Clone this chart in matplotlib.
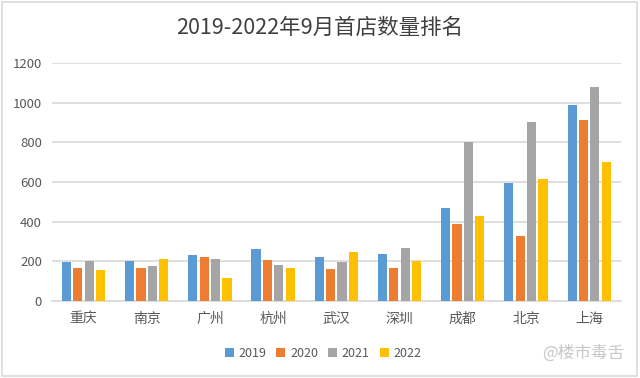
import matplotlib
matplotlib.use("Agg")
import matplotlib.pyplot as plt
import numpy as np
from matplotlib.patches import Rectangle

plt.rcParams['font.family'] = ['Noto Sans CJK SC', 'DejaVu Sans']

cities = ["重庆", "南京", "广州", "杭州", "武汉", "深圳", "成都", "北京", "上海"]
years = ["2019", "2020", "2021", "2022"]
v2019 = [198, 200, 230, 262, 222, 238, 470, 596, 988]
v2020 = [165, 165, 221, 206, 160, 168, 386, 329, 912]
v2021 = [202, 174, 209, 180, 197, 266, 802, 903, 1078]
v2022 = [157, 209, 116, 168, 246, 199, 430, 613, 703]
colors = ["#5B9BD5", "#ED7D31", "#A5A5A5", "#FFC000"]

fig = plt.figure(figsize=(6.4, 3.78), dpi=100)
ax = fig.add_axes([0.081, 0.204, 0.889, 0.629])

x = np.arange(len(cities))
width = 0.145
step = 0.18
series = [v2019, v2020, v2021, v2022]
for i, (vals, c, y) in enumerate(zip(series, colors, years)):
    ax.bar(x + (i - 1.5) * step, vals, width, color=c, label=y, zorder=3)

ax.set_xlim(-0.5, len(cities) - 0.5)
ax.set_ylim(0, 1200)
ax.set_yticks(range(0, 1201, 200))
ax.grid(axis='y', color='#D9D9D9', linewidth=1.2, zorder=0)
for s in ['top', 'right', 'left']:
    ax.spines[s].set_visible(False)
ax.spines['bottom'].set_color('#D9D9D9')
ax.spines['bottom'].set_linewidth(1.2)
ax.tick_params(axis='both', length=0, colors='#595959', labelsize=9.5)
ax.tick_params(axis='y', pad=7)
ax.tick_params(axis='x', pad=8)
ax.set_xticks(x)
ax.set_xticklabels(cities, fontsize=10)

fig.text(0.5, 0.927, "2019-2022年9月首店数量排名", ha='center', va='center',
         fontsize=15.5, color='#404040')

leg = fig.legend(loc='center', bbox_to_anchor=(0.505, 0.066), ncol=4, frameon=False,
                 fontsize=9, handlelength=0.7, handleheight=0.7, handletextpad=0.4,
                 columnspacing=0.8)
for t in leg.get_texts():
    t.set_color('#595959')

fig.text(0.912, 0.066, "@楼市毒舌", ha='center', va='center', fontsize=12,
         color='#C8C8C8')

fig.patches.append(Rectangle((0.003, 0.004), 0.992, 0.992, transform=fig.transFigure,
                             fill=False, edgecolor='#D9D9D9', linewidth=1.2))

fig.savefig("out.png", dpi=100)
